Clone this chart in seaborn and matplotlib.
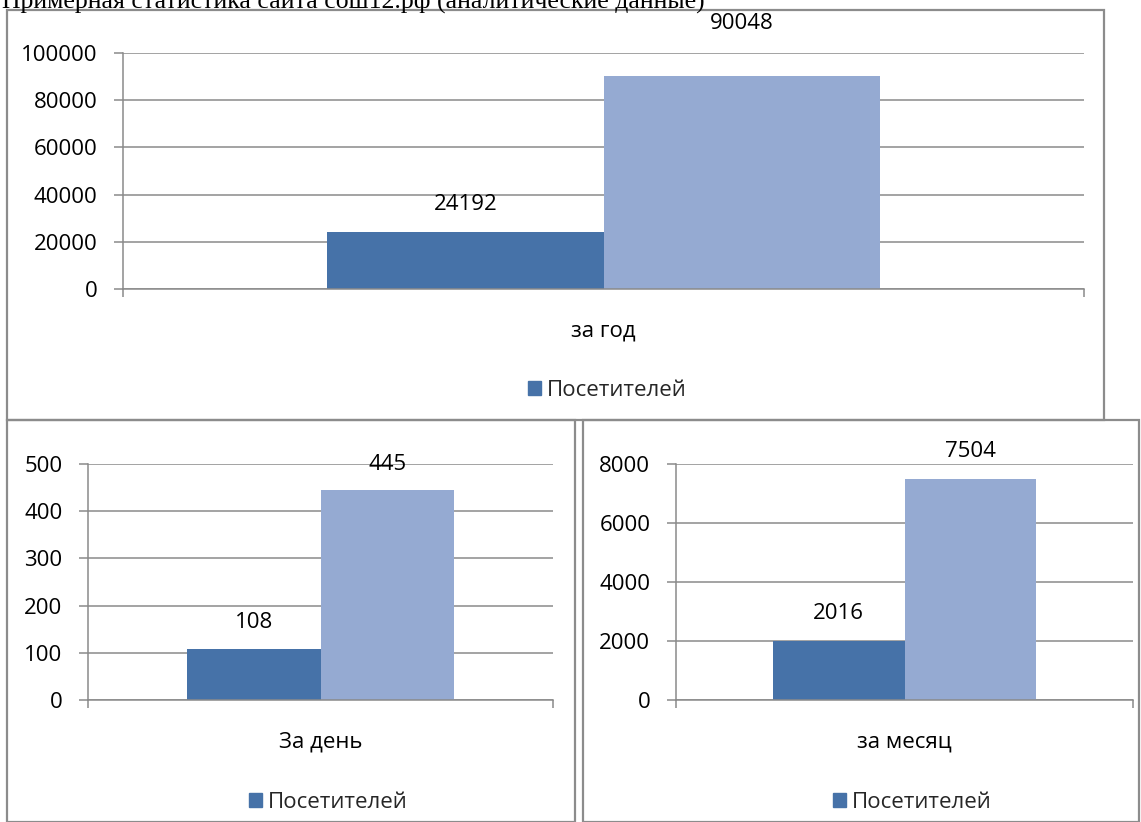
import matplotlib
matplotlib.use("Agg")
import matplotlib.pyplot as plt
from matplotlib.patches import Patch, Rectangle
import seaborn as sns
import pandas as pd

# chart data
series_names = ["Посетителей", ""]
year_label = ["за год"]
year_values = [24192, 90048]
day_label = ["За день"]
day_values = [108, 445]
month_label = ["за месяц"]
month_values = [2016, 7504]

title_text = "Примерная статистика сайта сош12.рф (аналитические данные)"

sns.set_theme(style="white")
plt.rcParams["font.family"] = ["Open Sans", "DejaVu Sans"]

W, H = 1141, 822
DARK = "#4672A8"
LIGHT = "#95AAD2"
GRID = "#8a8a8a"
FRAME = "#8c8c8c"


def px_rect(l, t, r, b):
    return [l / W, 1 - b / H, (r - l) / W, (b - t) / H]


def draw_panel(ax, category, values, ymax, step, offsets):
    df = pd.DataFrame({
        "cat": category * len(values),
        "series": series_names,
        "value": values,
    })
    sns.barplot(data=df, x="cat", y="value", hue="series",
                palette=[DARK, LIGHT], width=0.575, gap=0, saturation=1,
                linewidth=0, legend=False, ax=ax)
    ax.set_xlim(-0.5, 0.5)
    ax.set_ylim(0, ymax)
    ax.set_yticks(range(0, ymax + 1, step))
    ax.set_xlabel("")
    ax.set_ylabel("")
    ax.yaxis.grid(True, color=GRID, linewidth=1.1)
    ax.set_axisbelow(True)
    for s in ["top", "right"]:
        ax.spines[s].set_visible(False)
    for s in ["left", "bottom"]:
        ax.spines[s].set_color(GRID)
        ax.spines[s].set_linewidth(1.1)
    ax.tick_params(axis="y", left=True, length=6.5, width=1.1, color=GRID,
                   direction="out", pad=12, labelsize=16, labelcolor="black")
    ax.tick_params(axis="x", which="major", length=0, pad=23,
                   labelsize=16, labelcolor="black")
    ax.set_xticks([-0.5, 0.5], minor=True)
    ax.tick_params(axis="x", which="minor", bottom=True, length=6,
                   width=1.1, color=GRID, direction="out")
    for i, bars in enumerate(ax.containers):
        for bar in bars:
            h = bar.get_height()
            ax.annotate(f"{int(h)}", (bar.get_x() + bar.get_width() / 2, h),
                        xytext=(0, offsets[i]), textcoords="offset pixels",
                        ha="center", va="center", fontsize=16,
                        color="black", annotation_clip=False)


fig = plt.figure(figsize=(W / 100, H / 100), dpi=100)
fig.patch.set_facecolor("white")

ax_top = fig.add_axes(px_rect(123, 53, 1084, 289))
draw_panel(ax_top, year_label, year_values, 100000, 20000, [27, 53])

ax_day = fig.add_axes(px_rect(88, 464, 553, 700))
draw_panel(ax_day, day_label, day_values, 500, 100, [27, 25])

ax_month = fig.add_axes(px_rect(676, 464, 1133, 700))
draw_panel(ax_month, month_label, month_values, 8000, 2000, [27, 27])

# legends (only the named series is listed)
for cx, cy in [(607, 390), (328, 802), (912, 802)]:
    fig.legend(handles=[Patch(color=DARK, label=series_names[0])],
               loc="center", bbox_to_anchor=(cx / W, 1 - cy / H),
               frameon=False, fontsize=16, handlelength=0.6,
               handleheight=0.6, handletextpad=0.25)

# chart frames
for l, t, r, b in [(7, 10, 1104, 420), (7, 420, 575, 822), (583, 420, 1139, 822)]:
    fig.add_artist(Rectangle((l / W, 1 - b / H), (r - l) / W, (b - t) / H,
                             transform=fig.transFigure, fill=False,
                             edgecolor=FRAME, linewidth=1.6))

# title sits partly above the top edge, as in the source image
fig.text(2 / W, 1 - 8 / H, title_text, family="Liberation Serif",
         fontsize=18.5, va="baseline", ha="left", color="black")

fig.savefig("out.png", dpi=100)
